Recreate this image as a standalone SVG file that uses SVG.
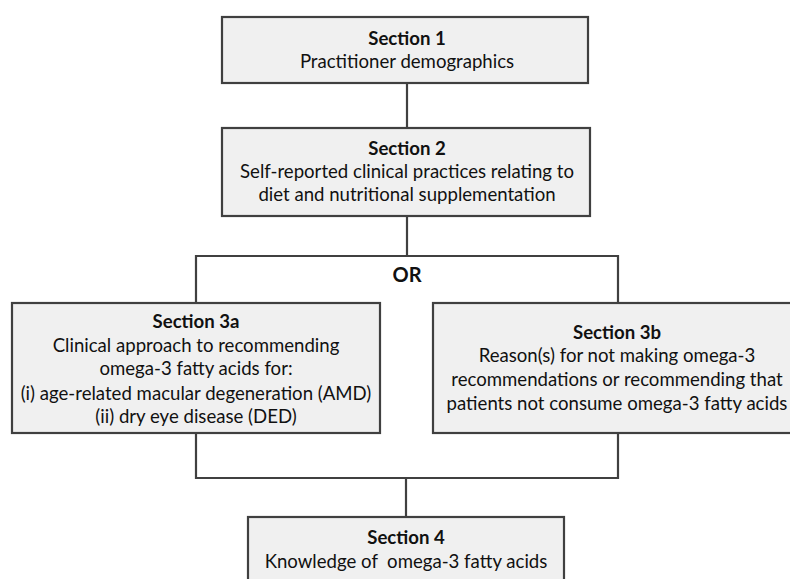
<svg xmlns="http://www.w3.org/2000/svg" width="790" height="579" viewBox="0 0 790 579">
<style>
.box{fill:#f0f0f0;stroke:#404040;stroke-width:2.2}
.conn{fill:none;stroke:#404040;stroke-width:2.2}
text{font-family:Lato,"Open Sans","Liberation Sans",sans-serif;font-size:18.6px;fill:#111;text-anchor:middle}
.b{font-weight:bold}
</style>
<rect width="790" height="579" fill="#ffffff"/>
<g id="connectors">
<line class="conn" x1="407" y1="83" x2="407" y2="128"/>
<polyline class="conn" points="196,303 196,256 618,256 618,303"/>
<line class="conn" x1="407" y1="216" x2="407" y2="256"/>
<polyline class="conn" points="196,433 196,478 618,478 618,433"/>
<line class="conn" x1="406" y1="478" x2="406" y2="517"/>
</g>
<g id="section1">
<rect class="box" x="222" y="17" width="366" height="66"/>
<text class="b" x="407" y="45">Section 1</text>
<text x="407" y="68">Practitioner demographics</text>
</g>
<g id="section2">
<rect class="box" x="222" y="128" width="368" height="88"/>
<text class="b" x="407" y="155">Section 2</text>
<text x="407" y="178">Self-reported clinical practices relating to</text>
<text x="407" y="201">diet and nutritional supplementation</text>
</g>
<g id="or-label">
<text class="b" x="407" y="282" style="font-size:20px">OR</text>
</g>
<g id="section3a">
<rect class="box" x="12" y="303" width="368" height="130"/>
<text class="b" x="196" y="328">Section 3a</text>
<text x="196" y="352">Clinical approach to recommending</text>
<text x="196" y="375">omega-3 fatty acids for:</text>
<text x="196" y="400">(i) age-related macular degeneration (AMD)</text>
<text x="196" y="423">(ii) dry eye disease (DED)</text>
</g>
<g id="section3b">
<rect class="box" x="433" y="303" width="370" height="130"/>
<text class="b" x="617" y="339">Section 3b</text>
<text x="617" y="362">Reason(s) for not making omega-3</text>
<text x="617" y="386">recommendations or recommending that</text>
<text x="617" y="410">patients not consume omega-3 fatty acids</text>
</g>
<g id="section4">
<rect class="box" x="248" y="517" width="316" height="80"/>
<text class="b" x="406" y="544">Section 4</text>
<text x="406" y="568" xml:space="preserve">Knowledge of  omega-3 fatty acids</text>
</g>
</svg>
